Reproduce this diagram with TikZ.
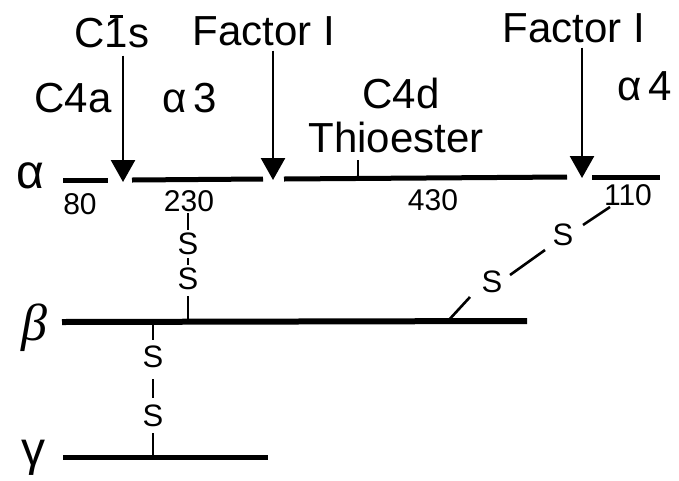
\documentclass[tikz,border=0pt]{standalone}
\usepackage{fontspec}
\setmainfont{Liberation Sans}
\newfontfamily\grkserif{Liberation Serif}
\usetikzlibrary{arrows.meta}
\newcommand{\barone}{\ooalign{1\cr\hidewidth\rule[0.70em]{0.32em}{0.07em}\hidewidth}}
\begin{document}
\begin{tikzpicture}[x=1pt,y=-1pt,
  lbl/.style={font=\fontsize{42}{48}\selectfont, inner sep=0pt, anchor=base},
  num/.style={font=\fontsize{30}{36}\selectfont, inner sep=0pt, anchor=base},
  ess/.style={font=\fontsize{31}{36}\selectfont, inner sep=0pt},
  greek/.style={font=\fontsize{48}{54}\selectfont, inner sep=0pt},
  chainline/.style={line width=5pt},
  bond/.style={line width=2.6pt},
  cut/.style={line width=2.6pt, -{Triangle[length=22pt,width=24pt]}},
]
\useasboundingbox (0,0) rectangle (679,480);

% --- labels on top
\node[lbl] (c1s) at (112,47) {C\barone s};
\node[lbl] (fac1) at (264,45) {Factor I};
\node[lbl] (fac2) at (574,42) {Factor I};
\node[lbl] (c4a) at (73,112) {C4a};
\node[lbl] (al3) at (190,112) {α\,3};
\node[lbl] (c4d) at (401,108) {C4d};
\node[lbl] (thio) at (396,152) {Thioester};
\node[lbl] (al4) at (645,100) {α\,4};

% --- chain labels
\node[greek, anchor=base] (alpha) at (30,188) {α};
\node[greek, font=\fontsize{52}{58}\selectfont\grkserif\itshape] (beta) at (34,328) {β};
\node[greek] (gamma) at (33,458) {γ};

% --- numbers
\node[num] (n80) at (80,214) {80};
\node[num] (n230) at (189,211) {230};
\node[num] (n430) at (433,210) {430};
\node[num] (n110) at (628,205) {110};

% --- alpha chain segments
\coordinate (a1) at (63,180);
\coordinate (a2) at (108,180);
\coordinate (a3) at (132,180);
\coordinate (a4) at (263,179);
\coordinate (a5) at (284,179);
\coordinate (a6) at (567,177);
\coordinate (a7) at (592,177);
\coordinate (a8) at (660,177);
\draw[chainline] (a1) -- (a2);
\draw[chainline] (a3) -- (a4);
\draw[chainline] (a5) -- (a6);
\draw[chainline] (a7) -- (a8);

% --- cleavage arrows
\coordinate (t1) at (123,182);
\coordinate (t2) at (273,180);
\coordinate (t3) at (582,178);
\draw[cut] ([yshift=-8pt]c1s.south -| t1) -- (t1);
\draw[cut] ([yshift=-5pt]fac1.south -| t2) -- (t2);
\draw[cut] ([yshift=-5pt]fac2.south -| t3) -- (t3);

% --- thioester tick
\coordinate (th1) at (358,160);
\coordinate (th2) at (358,178);
\draw[bond] (th1) -- (th2);

% --- beta and gamma chains
\coordinate (b1) at (62,322);
\coordinate (b2) at (527,321);
\coordinate (g1) at (63,457);
\coordinate (g2) at (268,457);
\draw[line width=6pt] (b1) -- (b2);
\draw[line width=5pt] (g1) -- (g2);

% --- alpha-beta disulfide
\node[ess] (s1) at (188,244) {S};
\node[ess] (s2) at (188,279) {S};
\coordinate (ab0) at (188,213);
\coordinate (ab1) at (188,322);
\draw[bond] (ab0) -- ([yshift=3pt]s1.north);
\draw[bond, shorten <=3pt, shorten >=3pt] (s1.south) -- (s2.north);
\draw[bond] ([yshift=-6pt]s2.south) -- (ab1);

% --- beta-gamma disulfide
\node[ess] (s3) at (153,357) {S};
\node[ess] (s4) at (153,416) {S};
\coordinate (bg0) at (153,322);
\coordinate (bg1) at (153,457);
\draw[bond] (bg0) -- ([yshift=6pt]s3.north);
\draw[bond] ([yshift=-11pt]s3.south) -- ([yshift=7pt]s4.north);
\draw[bond] ([yshift=-6pt]s4.south) -- (bg1);

% --- alpha4-beta disulfide
\node[ess] (s5) at (492,282) {S};
\node[ess] (s6) at (563,235) {S};
\coordinate (d0) at (447,322);
\coordinate (d1) at (470,297);
\coordinate (d2) at (510,275);
\coordinate (d3) at (545,250);
\coordinate (d4) at (583,225);
\coordinate (d5) at (610,207);
\draw[bond] (d0) -- (d1);
\draw[bond] (d2) -- (d3);
\draw[bond] (d4) -- (d5);
\end{tikzpicture}
\end{document}
